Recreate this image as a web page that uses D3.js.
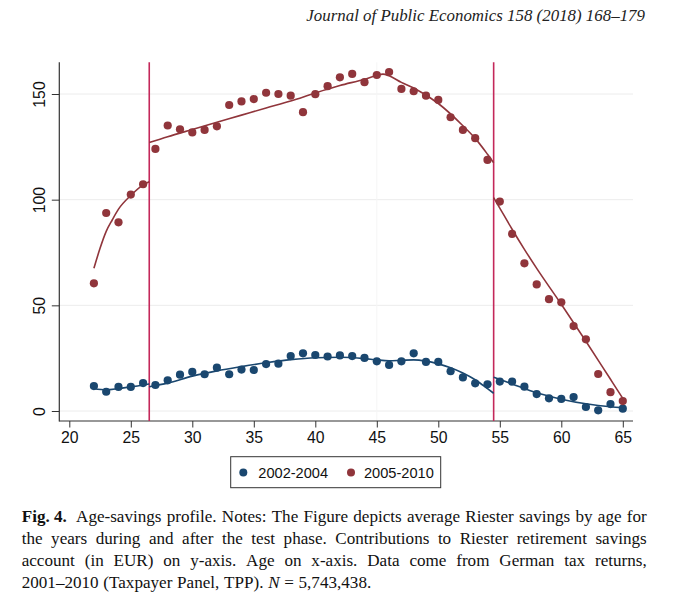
<!DOCTYPE html>
<html><head><meta charset="utf-8">
<script src="https://cdn.jsdelivr.net/npm/d3@7"></script>
<style>body{margin:0;background:#fff}svg{display:block}</style>
</head><body>
<svg id="c" width="680" height="603"></svg>
<script>
// ---------- data ----------
const ages = [22,23,24,25,26,27,28,29,30,31,32,33,34,35,36,37,38,39,40,41,42,43,44,45,46,47,48,49,50,51,52,53,54,55,56,57,58,59,60,61,62,63,64,65];
const s2002 = [11.8,9.1,11.4,11.4,13.2,12.3,14.5,17.2,18.5,17.4,20.5,17.4,19.6,19.4,22.2,22.4,26.0,27.3,26.5,25.8,26.3,26.0,25.1,23.5,21.8,23.5,27.3,23.2,23.2,18.8,15.9,13.1,12.6,13.9,13.9,11.5,8.0,6.0,5.7,6.6,1.9,0.3,3.3,1.1];
const s2005 = [60.4,93.7,89.3,102.4,107.3,124.0,135.1,133.3,131.8,133.0,134.7,144.8,146.5,147.6,150.6,150.0,149.2,141.4,149.9,153.7,157.9,159.5,155.6,159.0,160.4,152.4,151.3,149.2,147.2,139.0,133.0,129.1,118.8,99.1,83.8,69.9,59.9,52.9,51.4,40.2,33.9,17.5,8.9,4.7];
// fitted lines, three age segments each
const fit2002Ages1 = [22,23,24,25,26,26.5];
const fit2002Vals1 = [10.5,10.0,10.6,11.4,12.3,12.8];
const fit2002Ages2 = [26.5,28,30,32,34,36,38,40,42,44,45,46,47,48,49,50,51,52,53,54,54.5];
const fit2002Vals2 = [11.5,13.2,16.5,19.0,21.0,22.8,24.3,25.2,25.4,24.8,24.2,23.8,24.0,24.2,23.6,22.3,20.5,18.0,14.8,10.6,8.4];
const fit2002Ages3 = [54.5,56,58,60,62,64,65];
const fit2002Vals3 = [16.0,12.8,8.6,5.6,3.4,2.0,1.6];
const fit2005Ages1 = [22,22.5,23,23.5,24,25,26,26.5];
const fit2005Vals1 = [67.5,77,85,90.5,95.5,102,107,108.5];
const fit2005Ages2 = [26.5,28,30,32,34,36,38,40,42,44,45,45.5,46,47,48,50,52,53,54,54.5];
const fit2005Vals2 = [127,129.8,133.2,136.6,140,143.4,146.7,150.5,154,157,158.8,159.4,158.6,155.5,152.8,145.5,135,129,121.5,117.5];
const fit2005Ages3 = [54.5,55,56,57,58,60,62,64,65];
const fit2005Vals3 = [101,96,86,76.5,67.5,50.5,33,15,6];
const breaks = [26.5, 54.5];
const xTicks = [20,25,30,35,40,45,50,55,60,65];
const yTicks = [0,50,100,150];
const legendLabels = ["2002-2004","2005-2010"];

// ---------- drawing ----------
(function(){
const svg = d3.select("#c");
const navy = "#1a476f", maroon = "#90353b", vcol = "#c4285a";
const x = d3.scaleLinear().domain([20,65]).range([69.3,622.8]);
const y = d3.scaleLinear().domain([0,150]).range([411,94]);
const pL = 59.3, pB = 421, pT = 62.3, pR = 633;

// header
svg.append("text").attr("x",645).attr("y",20.7).attr("text-anchor","end")
  .attr("font-family","Liberation Serif").attr("font-style","italic").attr("font-size",16.9)
  .attr("fill","#222").text("Journal of Public Economics 158 (2018) 168–179");

// gridlines
svg.append("g").selectAll("line").data(yTicks).join("line")
  .attr("x1",pL).attr("x2",pR).attr("y1",d=>y(d)).attr("y2",d=>y(d))
  .attr("stroke","#ececec").attr("stroke-width",1);
svg.append("line").attr("x1",x(45)).attr("x2",x(45)).attr("y1",pT).attr("y2",pB)
  .attr("stroke","#f5f5f5").attr("stroke-width",1);

// axes
const xa = svg.append("g").attr("transform",`translate(0,${pB})`)
  .call(d3.axisBottom(x).tickValues(xTicks).tickSize(6.5).tickPadding(4));
xa.select(".domain").remove();
xa.selectAll("text").attr("font-family","Liberation Sans").attr("font-size",15.8).attr("fill","#111")
  .attr("dy",null).attr("y",21.7);
xa.selectAll("line").attr("stroke","#333");
const ya = svg.append("g").attr("transform",`translate(${pL},0)`)
  .call(d3.axisLeft(y).tickValues(yTicks).tickSize(7.5));
ya.select(".domain").remove();
ya.selectAll("line").attr("stroke","#333");
ya.selectAll("text").attr("font-family","Liberation Sans").attr("font-size",15.8).attr("fill","#111")
  .attr("x",null).attr("dy",null).attr("text-anchor","middle")
  .attr("transform","translate(-14.1,0) rotate(-90)");
svg.append("line").attr("x1",pL).attr("x2",pL).attr("y1",pT).attr("y2",pB+0.5).attr("stroke","#333").attr("stroke-width",1.2);
svg.append("line").attr("x1",pL).attr("x2",pR).attr("y1",pB).attr("y2",pB).attr("stroke","#333").attr("stroke-width",1.2);

// vertical break lines
svg.append("g").selectAll("line").data(breaks).join("line")
  .attr("x1",d=>x(d)).attr("x2",d=>x(d)).attr("y1",pT).attr("y2",pB)
  .attr("stroke",vcol).attr("stroke-width",1.6);

// fit lines
const line = d3.line().x(d=>x(d[0])).y(d=>y(d[1])).curve(d3.curveMonotoneX);
const fits = [
  [fit2002Ages1,fit2002Vals1,navy],[fit2002Ages2,fit2002Vals2,navy],[fit2002Ages3,fit2002Vals3,navy],
  [fit2005Ages1,fit2005Vals1,maroon],[fit2005Ages2,fit2005Vals2,maroon],[fit2005Ages3,fit2005Vals3,maroon]
];
fits.forEach(([a,v,c])=>{
  svg.append("path").attr("d",line(a.map((d,i)=>[d,v[i]]))).attr("fill","none")
    .attr("stroke",c).attr("stroke-width",1.6);
});

// points
svg.append("g").selectAll("circle").data(ages.map((a,i)=>[a,s2002[i]])).join("circle")
  .attr("cx",d=>x(d[0])).attr("cy",d=>y(d[1])).attr("r",4.1).attr("fill",navy);
svg.append("g").selectAll("circle").data(ages.map((a,i)=>[a,s2005[i]])).join("circle")
  .attr("cx",d=>x(d[0])).attr("cy",d=>y(d[1])).attr("r",4.1).attr("fill",maroon);

// legend
svg.append("rect").attr("x",230.7).attr("y",456.7).attr("width",210).attr("height",31)
  .attr("fill","#fff").attr("stroke","#333").attr("stroke-width",1);
const lg = [[243.3,258.3,navy],[351,364,maroon]];
lg.forEach(([cx,tx,c],i)=>{
  svg.append("circle").attr("cx",cx).attr("cy",472.5).attr("r",4).attr("fill",c);
  svg.append("text").attr("x",tx).attr("y",477.6).attr("font-family","Liberation Sans")
    .attr("font-size",14.6).attr("fill","#111").text(legendLabels[i]);
});

// caption (justified)
const capFont = "Liberation Serif", capSize = 17.1, capL = 21.7, capR = 646.7;
const capLines = [
  {y:522.3, just:true, words:[["Fig. 4.","b"],["Age-savings"],["profile."],["Notes:"],["The"],["Figure"],["depicts"],["average"],["Riester"],["savings"],["by"],["age"],["for"]]},
  {y:544.1, just:true, words:"the years during and after the test phase. Contributions to Riester retirement savings".split(" ").map(w=>[w])},
  {y:565.9, just:true, words:"account (in EUR) on y-axis. Age on x-axis. Data come from German tax returns,".split(" ").map(w=>[w])},
  {y:587.7, just:false, words:[["2001–2010"],["(Taxpayer"],["Panel,"],["TPP)."],["N","i"],["="],["5,743,438."]]}
];
const meas = svg.append("text").attr("font-family",capFont).attr("font-size",capSize);
function wlen(w,st){
  meas.attr("font-weight",st==="b"?"bold":"normal").attr("font-style",st==="i"?"italic":"normal").text(w);
  return meas.node().getComputedTextLength();
}
meas.attr("font-weight","normal").attr("font-style","normal").text("a a");
const withSp = meas.node().getComputedTextLength();
meas.text("aa");
const spaceW = withSp - meas.node().getComputedTextLength();
capLines.forEach(L=>{
  const widths = L.words.map(([w,st])=>wlen(w,st));
  const extra = L.words[0][1]==="b" ? 4 : 0;
  const total = d3.sum(widths);
  const gap = L.just ? (capR-capL-total-extra)/(L.words.length-1) : spaceW*1.1;
  let cx = capL;
  L.words.forEach(([w,st],i)=>{
    svg.append("text").attr("x",cx).attr("y",L.y).attr("font-family",capFont).attr("font-size",capSize)
      .attr("font-weight",st==="b"?"bold":"normal").attr("font-style",st==="i"?"italic":"normal")
      .attr("fill","#111").text(w);
    cx += widths[i] + gap + (i===0?extra:0);
  });
});
meas.remove();
})();
</script>
</body></html>
